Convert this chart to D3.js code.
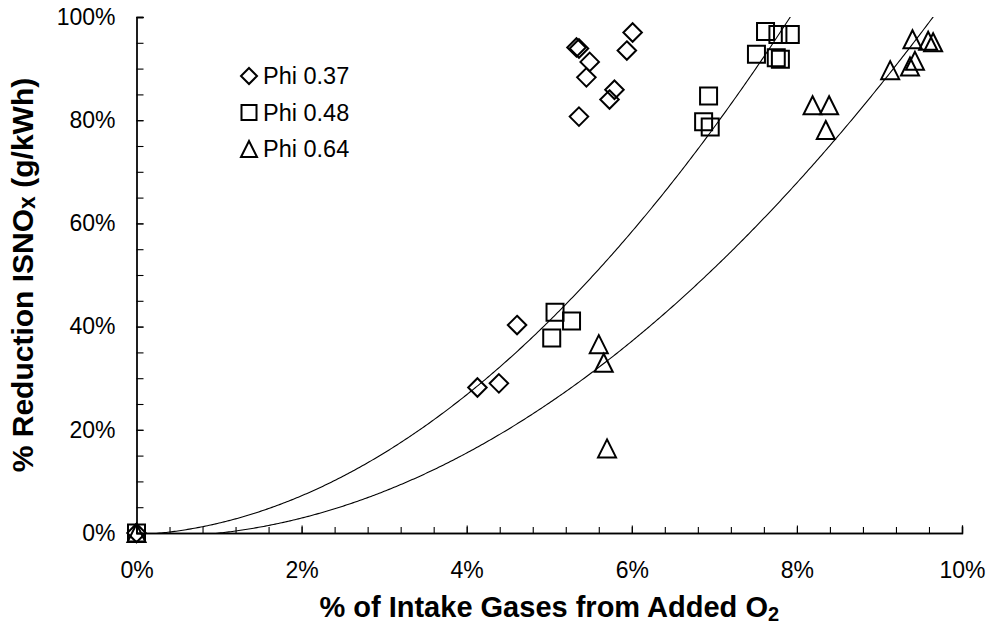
<!DOCTYPE html>
<html>
<head>
<meta charset="utf-8">
<script src="https://cdn.jsdelivr.net/npm/d3@7"></script>
<style>
  html, body { margin: 0; padding: 0; background: #fff; }
  svg { display: block; font-family: "Liberation Sans", Arial, sans-serif; }
</style>
</head>
<body>
<svg id="chart" width="989" height="624"></svg>
<script>
// Measured points: x = % of intake gases from added O2, y = % reduction ISNOx
const phi037X = [0, 4.13, 4.39, 4.61, 5.33, 5.36, 5.36, 5.45, 5.49, 5.73, 5.79, 5.94, 6.01];
const phi037Y = [0, 28.2, 29.0, 40.3, 94.1, 93.9, 80.7, 88.3, 91.3, 84.0, 85.9, 93.5, 97.0];

const phi048X = [0, 5.03, 5.07, 5.27, 6.87, 6.93, 6.95, 7.51, 7.62, 7.75, 7.77, 7.80, 7.92];
const phi048Y = [0, 37.8, 42.8, 41.1, 79.7, 84.7, 78.7, 92.8, 97.2, 92.1, 96.6, 91.8, 96.6];

const phi064X = [0, 5.60, 5.66, 5.70, 8.19, 8.35, 8.39, 9.13, 9.37, 9.40, 9.43, 9.59, 9.65];
const phi064Y = [0, 36.6, 33.0, 16.4, 82.9, 78.1, 82.9, 89.7, 90.4, 95.7, 91.5, 95.4, 95.1];

// Second-order trendline coefficients [a, b, c] for y = a*x^2 + b*x + c
const trendUpper = [1.50, 0.794, -0.373];
const trendLower = [1.1306, -0.478, -0.670];

const xTickValues = [0, 2, 4, 6, 8, 10];
const yTickValues = [0, 20, 40, 60, 80, 100];
const legendLabels = ["Phi 0.37", "Phi 0.48", "Phi 0.64"];

const svg = d3.select("#chart");
const margin = { left: 136.5, right: 27, top: 17, bottom: 91 };
const W = 989, H = 624;

const x = d3.scaleLinear().domain([0, 10]).range([margin.left, W - margin.right]);
const y = d3.scaleLinear().domain([0, 100]).range([H - margin.bottom, margin.top]);

// Clip region for trendlines
svg.append("defs").append("clipPath").attr("id", "plotClip")
  .append("rect")
  .attr("x", x(0)).attr("y", y(100))
  .attr("width", x(10) - x(0)).attr("height", y(0) - y(100));

// Axes with inward ticks
const xAxisMinor = d3.axisBottom(x).tickValues(d3.range(0, 10.001, 0.4)).tickSize(-6).tickFormat("");
const xAxisMajor = d3.axisBottom(x).tickValues(xTickValues).tickSize(-7.5).tickPadding(29)
  .tickFormat(d => d + "%");
const yAxisMinor = d3.axisLeft(y).tickValues(d3.range(0, 100.001, 5)).tickSize(-7).tickFormat("");
const yAxisMajor = d3.axisLeft(y).tickValues(yTickValues).tickSize(-7).tickPadding(21)
  .tickFormat(d => d + "%");

function styleAxis(g) {
  g.selectAll("path.domain").attr("stroke", "#000").attr("stroke-width", 1.3);
  g.selectAll(".tick line").attr("stroke", "#000").attr("stroke-width", 1.1);
  g.selectAll(".tick text").attr("fill", "#000").style("font-size", "23px")
    .style("font-family", "'Liberation Sans', Arial, sans-serif");
}

svg.append("g").attr("transform", `translate(0,${y(0)})`).call(xAxisMinor).call(styleAxis);
svg.append("g").attr("transform", `translate(0,${y(0)})`).call(xAxisMajor).call(styleAxis)
  .selectAll(".tick text").attr("dy", "0.71em");
svg.append("g").attr("transform", `translate(${x(0)},0)`).call(yAxisMinor).call(styleAxis);
svg.append("g").attr("transform", `translate(${x(0)},0)`).call(yAxisMajor).call(styleAxis);

// Trendlines
function poly(c) { return v => c[0] * v * v + c[1] * v + c[2]; }
const line = d3.line().x(d => x(d[0])).y(d => y(d[1]));
[trendUpper, trendLower].forEach(c => {
  const f = poly(c);
  const pts = d3.range(0, 10.0001, 0.02).map(v => [v, f(v)]);
  svg.append("path")
    .attr("clip-path", "url(#plotClip)")
    .attr("d", line(pts))
    .attr("fill", "none").attr("stroke", "#000").attr("stroke-width", 1.1);
});

// Marker shapes
function diamond(s) { const h = s / 2; return `M0,${-h}L${h},0L0,${h}L${-h},0Z`; }
function square(s) { const h = s / 2; return `M${-h},${-h}H${h}V${h}H${-h}Z`; }
function triangle(s) { const h = s / 2; return `M0,${-h}L${h},${h}L${-h},${h}Z`; }

const series = [
  { xs: phi037X, ys: phi037Y, shape: diamond, size: 18.5 },
  { xs: phi048X, ys: phi048Y, shape: square, size: 17 },
  { xs: phi064X, ys: phi064Y, shape: triangle, size: 18 }
];

series.forEach(s => {
  svg.append("g").selectAll("path")
    .data(d3.range(s.xs.length))
    .join("path")
    .attr("transform", i => `translate(${x(s.xs[i])},${y(s.ys[i])})`)
    .attr("d", s.shape(s.size))
    .attr("fill", "none").attr("stroke", "#000").attr("stroke-width", 2);
});

// Legend
const legend = svg.append("g").attr("transform", "translate(249,76)");
legendLabels.forEach((lab, i) => {
  const g = legend.append("g").attr("transform", `translate(0,${i * 36.5})`);
  g.append("path").attr("d", series[i].shape(i === 1 ? 15 : 16))
    .attr("fill", "none").attr("stroke", "#000").attr("stroke-width", 2);
  g.append("text").attr("x", 14).attr("y", 0).attr("dy", "0.35em")
    .style("font-size", "23.5px").attr("fill", "#000").text(lab);
});

// Axis titles
const xTitle = svg.append("text")
  .attr("x", (x(0) + x(10)) / 2).attr("y", 617)
  .attr("text-anchor", "middle")
  .style("font-size", "29px").style("font-weight", "bold").attr("fill", "#000");
xTitle.append("tspan").text("% of Intake Gases from Added O");
xTitle.append("tspan").attr("dy", 3.5).style("font-size", "20px").text("2");

const yTitle = svg.append("text")
  .attr("transform", `translate(33,${(y(0) + y(100)) / 2}) rotate(-90)`)
  .attr("text-anchor", "middle")
  .style("font-size", "30px").style("font-weight", "bold").attr("fill", "#000");
yTitle.append("tspan").text("% Reduction ISNO");
yTitle.append("tspan").attr("dy", 2).style("font-size", "23px").text("x");
yTitle.append("tspan").attr("dy", -2).text(" (g/kWh)");
</script>
</body>
</html>
